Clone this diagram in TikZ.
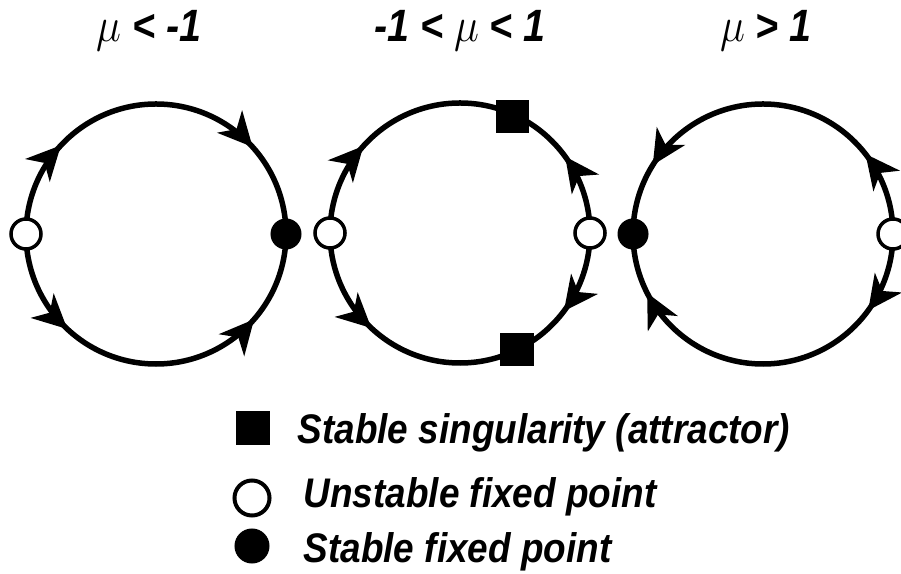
\documentclass[tikz,border=0pt]{standalone}
\usepackage{fontspec}
\setmainfont{Liberation Sans}
\usetikzlibrary{arrows.meta,positioning,decorations.markings}
\newcommand{\muvar}{{\fontsize{13}{14}\selectfont$\mu$}}

\begin{document}
\begin{tikzpicture}[
  x=0.01cm, y=0.01cm,
  font=\fontsize{10.5}{12}\selectfont\bfseries\itshape,
  orbit/.style={draw, line width=0.055cm},
  unstable/.style={circle, draw, line width=0.035cm, fill=white, minimum size=0.30cm, inner sep=0pt},
  stable/.style={circle, fill=black, minimum size=0.31cm, inner sep=0pt},
  attractor/.style={rectangle, fill=black, minimum size=0.33cm, inner sep=0pt},
  title/.style={font=\fontsize{11.2}{13}\selectfont\bfseries\itshape, anchor=base, inner sep=0pt, yscale=1.15, transform shape},
  legend/.style={anchor=base west, inner sep=0pt, yscale=1.12, transform shape},
  fwd/.style={postaction={decorate, decoration={markings, mark=at position {#1/360} with {\arrow{Stealth[length=0.34cm, width=0.33cm, inset=0.10cm]}}}}},
  bwd/.style={postaction={decorate, decoration={markings, mark=at position {#1/360} with {\arrowreversed{Stealth[length=0.34cm, width=0.33cm, inset=0.10cm]}}}}},
]
\useasboundingbox (0,0) rectangle (901,573);

\coordinate (c1) at (156,339);
\coordinate (c2) at (460,340);
\coordinate (c3) at (763,339);

% titles
\node[title] (t1) at (149,531) {\muvar\ < -1};
\node[title] (t2) at (460,531) {-1 < \muvar\ < 1};
\node[title] (t3) at (766,531) {\muvar\ > 1};

% phase circles
\draw[orbit, bwd=137, bwd=42, fwd=227, fwd=319] (c1) circle[radius=130];
\draw[orbit, bwd=138, fwd=227, fwd=36, bwd=323] (c2) circle[radius=130];
\draw[orbit, fwd=148, bwd=207, fwd=38, bwd=324] (c3) circle[radius=130];

\path (c1) ++(180:130) node[unstable] (u1) {};
\path (c1) ++(0:130) node[stable] (s1) {};
\path (c2) ++(180:130) node[unstable] (u2a) {};
\path (c2) ++(0:130) node[unstable] (u2b) {};
\path (c2) ++(66:128) node[attractor] (a2a) {};
\path (c2) ++(-64:130) node[attractor] (a2b) {};
\path (c3) ++(180:130) node[stable] (s3) {};
\path (c3) ++(0:130) node[unstable] (u3) {};

% legend
\node[attractor] (k-a) at (253,145) {};
\node[unstable, minimum size=0.35cm, line width=0.04cm] (k-u) at (252,75) {};
\node[stable, minimum size=0.35cm] (k-s) at (252,27) {};
\node[legend] (k-at) at (297,130) {Stable singularity (attractor)};
\node[legend] (k-ut) at (303,66) {Unstable fixed point};
\node[legend] (k-st) at (303,11) {Stable fixed point};

\end{tikzpicture}
\end{document}
